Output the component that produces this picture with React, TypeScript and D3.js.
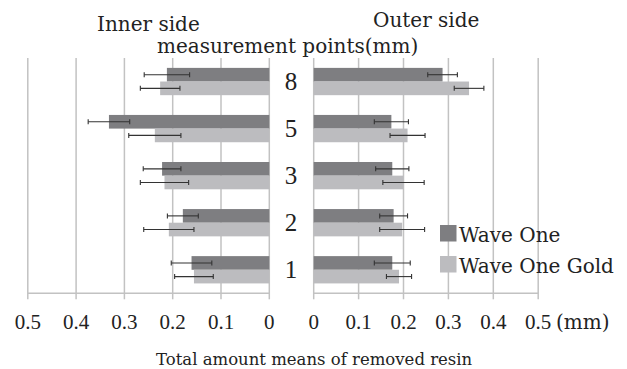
import React from "react";
import { scaleLinear, scaleBand } from "d3";

// measurement points, top to bottom as drawn
const points = ["8", "5", "3", "2", "1"];
const series = ["Wave One", "Wave One Gold"];

// inner side (mm), order follows `points`
const innerWaveOne = [0.212, 0.332, 0.222, 0.179, 0.161];
const innerWaveOneSd = [0.047, 0.043, 0.039, 0.032, 0.042];
const innerGold = [0.226, 0.237, 0.217, 0.208, 0.156];
const innerGoldSd = [0.041, 0.054, 0.05, 0.052, 0.04];

// outer side (mm)
const outerWaveOne = [0.287, 0.173, 0.175, 0.178, 0.175];
const outerWaveOneSd = [0.033, 0.038, 0.037, 0.031, 0.04];
const outerGold = [0.346, 0.209, 0.2, 0.197, 0.19];
const outerGoldSd = [0.033, 0.039, 0.046, 0.05, 0.028];

const ticks = [0, 0.1, 0.2, 0.3, 0.4, 0.5];
const tickLabels = ["0", "0.1", "0.2", "0.3", "0.4", "0.5"];

const colors = ["#7e7e81", "#bcbcbf"];
const gridColor = "#c2c2c2";
const serif = "'DejaVu Serif', serif";
const serifNarrow = "'Liberation Serif', serif";

const W = 627;
const H = 369;
const top = 58;
const bottom = 293.3;

export default function App() {
  const xLeft = scaleLinear().domain([0, 0.5]).range([269.3, 27.8]);
  const xRight = scaleLinear().domain([0, 0.5]).range([313.7, 538.2]);
  const y = scaleBand<string>()
    .domain(points)
    .range([top, bottom])
    .paddingInner(0.42)
    .paddingOuter(0.21);
  const ySub = scaleBand<number>().domain([0, 1]).range([0, y.bandwidth()]);

  const panels = [
    { x: xLeft, vals: [innerWaveOne, innerGold], sds: [innerWaveOneSd, innerGoldSd] },
    { x: xRight, vals: [outerWaveOne, outerGold], sds: [outerWaveOneSd, outerGoldSd] },
  ];

  return (
    <svg
      width={W}
      height={H}
      style={{ position: "absolute", left: 0, top: 0, background: "#fff" }}
    >
      {panels.map((p, pi) => (
        <g key={pi}>
          {/* grid + ticks */}
          {ticks.map((t) => (
            <g key={t}>
              <line
                x1={p.x(t)}
                x2={p.x(t)}
                y1={top}
                y2={bottom + 6}
                stroke={gridColor}
                strokeWidth={1.5}
              />
            </g>
          ))}
          <line
            x1={p.x(0)}
            x2={p.x(0.5)}
            y1={bottom}
            y2={bottom}
            stroke={gridColor}
            strokeWidth={1.5}
          />
          {ticks.map((t, i) => (
            <text
              key={"l" + t}
              x={p.x(t)}
              y={329}
              textAnchor="middle"
              fontFamily={serifNarrow}
              fontSize={21}
              fill="#222"
            >
              {tickLabels[i]}
            </text>
          ))}
          {/* bars */}
          {points.map((c, ci) =>
            series.map((s, si) => {
              const v = p.vals[si][ci];
              const sd = p.sds[si][ci];
              const y0 = (y(c) as number) + (ySub(si) as number);
              const h = ySub.bandwidth();
              const xa = p.x(0);
              const xb = p.x(v);
              const cy = y0 + h / 2;
              return (
                <g key={c + s}>
                  <rect
                    x={Math.min(xa, xb)}
                    y={y0}
                    width={Math.abs(xb - xa)}
                    height={h}
                    fill={colors[si]}
                  />
                  <line
                    x1={p.x(v - sd)}
                    x2={p.x(v + sd)}
                    y1={cy}
                    y2={cy}
                    stroke="#333"
                    strokeWidth={1.1}
                  />
                  {[v - sd, v + sd].map((e, ei) => (
                    <line
                      key={ei}
                      x1={p.x(e)}
                      x2={p.x(e)}
                      y1={cy - 2.5}
                      y2={cy + 2.5}
                      stroke="#333"
                      strokeWidth={1.1}
                    />
                  ))}
                </g>
              );
            })
          )}
        </g>
      ))}

      {/* category labels between panels */}
      {points.map((c) => (
        <text
          key={c}
          x={291}
          y={(y(c) as number) + y.bandwidth() / 2 + 8}
          textAnchor="middle"
          fontFamily={serifNarrow}
          fontSize={25}
          fill="#222"
        >
          {c}
        </text>
      ))}

      <text x={97} y={31} fontFamily={serif} fontSize={20} fill="#222">
        Inner side
      </text>
      <text x={373} y={27} fontFamily={serif} fontSize={20} fill="#222">
        Outer side
      </text>
      <text x={157} y={53} fontFamily={serif} fontSize={20} fill="#222">
        measurement points(mm)
      </text>
      <text x={556} y={329} fontFamily={serif} fontSize={20} fill="#222">
        (mm)
      </text>
      <text x={156} y={365} fontFamily={serif} fontSize={16.5} fill="#222">
        Total amount means of removed resin
      </text>

      {/* legend */}
      {series.map((s, i) => (
        <g key={s} transform={`translate(440, ${225 + i * 31})`}>
          <rect width={16.5} height={16.5} fill={colors[i]} />
          <text x={19} y={16.5} fontFamily={serif} fontSize={20} fill="#222">
            {s}
          </text>
        </g>
      ))}
    </svg>
  );
}
